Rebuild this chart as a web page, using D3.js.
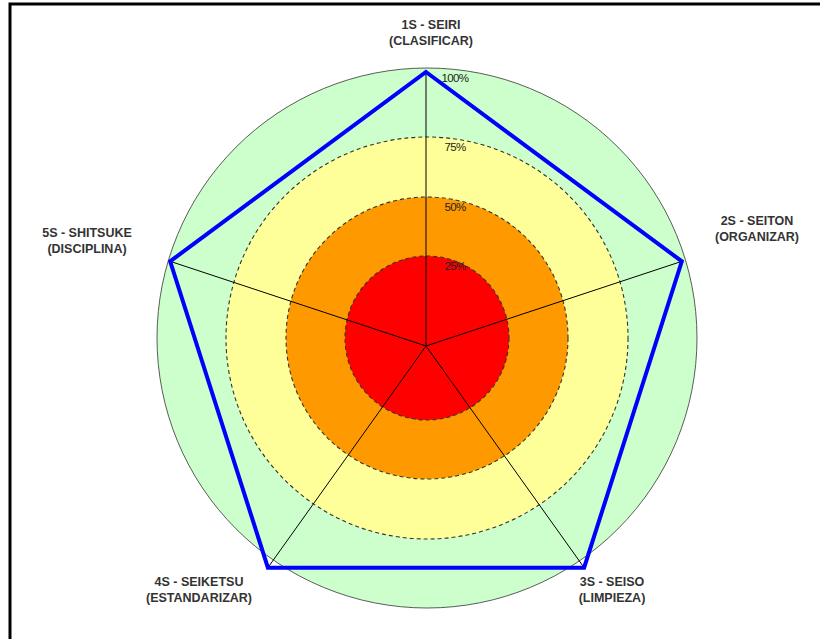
<!DOCTYPE html>
<html><head><meta charset="utf-8">
<script src="https://cdn.jsdelivr.net/npm/d3@7"></script>
<style>body{margin:0;background:#fff}svg{display:block}</style>
</head><body><svg id="c" width="820" height="639"></svg>
<script>
const categories = [["1S - SEIRI","(CLASIFICAR)"],["2S - SEITON","(ORGANIZAR)"],["3S - SEISO","(LIMPIEZA)"],["4S - SEIKETSU","(ESTANDARIZAR)"],["5S - SHITSUKE","(DISCIPLINA)"]];
const values = [100,100,100,100,100];
const ringLevels = [100,75,50,25];
const ringLabels = ["100%","75%","50%","25%"];
const ringColors = ["#ccffcc","#ffff99","#ff9900","#ff0000"];

const svg = d3.select("#c");
svg.append("rect").attr("x",10).attr("y",4).attr("width",830).attr("height",660)
  .attr("fill","#fff").attr("stroke","#000").attr("stroke-width",3);

const cx = 427, cy = 338;
const ringScale = d3.scaleLinear().domain([0,25,50,75,100]).range([0,82,141,201,270]);
const g = svg.append("g").attr("transform",`translate(${cx},${cy})`);
ringLevels.forEach((lv,i)=>{
  g.append("circle").attr("r",ringScale(lv)).attr("fill",ringColors[i])
   .attr("stroke","#333").attr("stroke-width",i===0?0.8:1.1)
   .attr("stroke-dasharray", i===0? null : "4,3");
});

// radar
const rcx = 426, rcy = 346;
const rX = d3.scaleLinear().domain([0,100]).range([0,269]);
const rY = d3.scaleLinear().domain([0,100]).range([0,274]);
const angle = d3.scaleLinear().domain([0,categories.length]).range([0,2*Math.PI]);
const rg = svg.append("g").attr("transform",`translate(${rcx},${rcy})`);
const pt = (i,v)=>[rX(v)*Math.sin(angle(i)), -rY(v)*Math.cos(angle(i))];
categories.forEach((c,i)=>{
  const [x,y] = pt(i,100);
  rg.append("line").attr("x1",0).attr("y1",0).attr("x2",x).attr("y2",y)
    .attr("stroke","#000").attr("stroke-width",1);
});
const line = d3.line().curve(d3.curveLinearClosed);
rg.append("path").attr("d",line(values.map((v,i)=>pt(i,v)))).attr("fill","none").attr("stroke","#0000ff")
  .attr("stroke-width",4).attr("stroke-linejoin","miter");

// ring labels
ringLevels.forEach((lv,i)=>{
  g.append("text").attr("x",28).attr("y",-ringScale(lv)+14)
   .attr("text-anchor","middle").attr("font-family","Liberation Sans, Arial, sans-serif")
   .attr("font-size",11.5).attr("fill","#222").attr("letter-spacing","-0.6").text(ringLabels[i]);
});

// category labels
const labelPos = [[431,25],[757,221],[612,582],[199,582],[87,233]];
categories.forEach((c,i)=>{
  const t = svg.append("text").attr("text-anchor","middle")
    .attr("font-family","Liberation Sans, Arial, sans-serif").attr("font-weight","bold")
    .attr("font-size",12.5).attr("fill","#333");
  c.forEach((s,j)=>t.append("tspan").attr("x",labelPos[i][0]).attr("y",labelPos[i][1]+j*16+4).text(s));
});
</script></body></html>
